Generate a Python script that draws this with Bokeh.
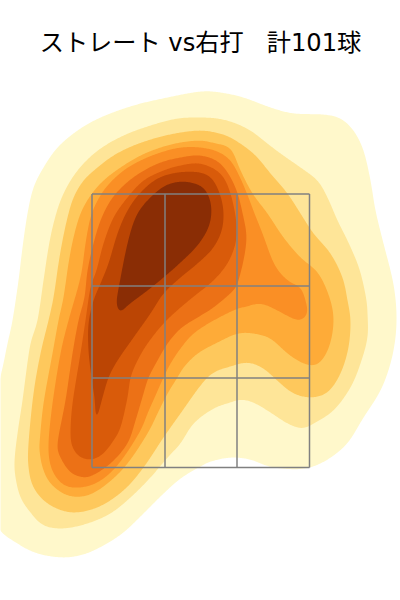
import numpy as np
from bokeh.plotting import figure
from bokeh.embed import file_html
from bokeh.resources import INLINE
from bokeh.models import Label

title_text = "ストレート vs右打\u00a0\u00a0\u00a0計101球"
band_colors = ["#FFF8CB", "#FEE598", "#FEC85C", "#FEAB38", "#FA8F25", "#EC7116", "#D95B0A", "#BB4504", "#8A2D05"]

density_1 = [(200,91),(220,92),(243,97),(270,107),(293,113),(323,114),(340,118),(353,130),(363,150),(370,180),(375,210),(383,243),(390,270),(394,290),(396,313),(395,337),(390,363),(380,390),(363,417),(343,447),(310,467),(273,467),(250,459),(230,457),(210,461),(200,466),(180,478),(160,496),(143,513),(123,532),(103,545),(83,554),(62,557),(37,553),(17,543),(-3,526),(-6,490),(-6,430),(-2,387),(3,363),(7,343),(12,320),(18,280),(22,247),(27,213),(33,187),(43,167),(57,147),(77,130),(100,117),(133,105),(167,97)]
density_2 = [(200,117),(217,118),(233,122),(250,130),(263,140),(280,153),(300,167),(317,180),(327,197),(337,220),(347,240),(357,263),(362,280),(366,300),(367,313),(367,337),(360,363),(350,387),(333,410),(313,423),(302,428),(287,423),(270,412),(253,402),(240,399),(230,402),(213,408),(193,423),(180,443),(167,457),(150,477),(130,497),(110,513),(87,523),(63,528),(43,525),(30,512),(20,497),(15,477),(14,460),(17,433),(22,400),(25,377),(30,343),(37,320),(43,280),(48,247),(53,223),(60,200),(70,180),(83,163),(100,148),(123,135),(150,125),(177,118)]
density_3 = [(200,130),(215,132),(230,137),(253,153),(270,173),(287,193),(300,213),(313,233),(330,253),(342,277),(347,300),(350,320),(348,347),(340,373),(327,392),(310,397),(293,393),(280,383),(263,368),(247,362),(230,366),(213,372),(200,385),(180,413),(163,437),(143,467),(123,490),(97,507),(70,512),(47,503),(33,487),(28,467),(28,443),(33,393),(40,353),(48,320),(53,297),(58,263),(62,240),(67,217),(73,197),(83,180),(97,167),(113,155),(133,145),(157,137),(180,132)]
density_4 = [(200,140),(215,143),(230,148),(240,170),(252,193),(267,213),(283,237),(300,257),(318,273),(330,300),(333,323),(328,348),(317,364),(303,363),(287,353),(270,338),(253,333),(237,333),(217,342),(197,353),(183,367),(177,377),(167,393),(157,413),(147,433),(127,463),(107,483),(87,495),(67,495),(50,483),(42,467),(39,450),(39,443),(43,403),(52,353),(58,320),(63,297),(68,263),(73,237),(80,213),(90,195),(103,180),(120,167),(140,155),(160,147),(180,142)]
density_5 = [(200,147),(217,151),(230,160),(240,178),(248,197),(254,213),(262,233),(272,260),(280,273),(290,282),(300,287),(305,300),(307,313),(300,320),(290,317),(277,310),(260,303),(243,307),(237,308),(213,320),(193,333),(180,348),(170,363),(163,377),(155,395),(147,413),(140,430),(123,457),(107,475),(90,485),(70,487),(58,480),(50,465),(48,443),(52,403),(60,353),(68,320),(80,277),(85,243),(90,217),(97,200),(107,185),(123,170),(140,160),(160,152),(180,147)]
density_6 = [(200,155),(220,163),(235,187),(243,217),(246,237),(243,260),(237,283),(233,290),(213,307),(197,317),(180,328),(167,343),(157,360),(148,377),(143,393),(135,420),(127,443),(110,463),(92,475),(83,477),(70,472),(60,457),(57,443),(65,400),(72,353),(78,320),(84,297),(87,270),(93,243),(100,220),(110,200),(123,185),(140,172),(160,162),(180,157)]
density_7 = [(200,163),(220,173),(230,193),(236,223),(235,243),(227,263),(213,280),(197,293),(180,307),(163,323),(147,343),(137,360),(130,377),(127,397),(120,427),(113,440),(103,453),(92,459),(80,457),(72,447),(70,433),(72,403),(80,353),(85,320),(90,287),(96,270),(103,243),(113,217),(127,197),(143,180),(163,170),(180,165)]
density_8 = [(177,172),(200,172),(213,180),(222,203),(222,227),(213,247),(197,263),(180,277),(163,293),(150,313),(133,337),(117,360),(108,377),(102,397),(96,417),(94,397),(91,377),(88,350),(88,323),(93,300),(100,283),(108,263),(117,233),(127,210),(140,192),(157,178)]
density_9 = [(183,181),(200,185),(208,195),(211,210),(208,227),(197,245),(180,262),(163,277),(147,290),(127,305),(120,312),(116,303),(119,283),(127,243),(135,217),(145,202),(160,188),(170,183)]
density_bands = [density_1, density_2, density_3, density_4, density_5, density_6, density_7, density_8, density_9]

zone_x = [91.5, 164.5, 236.5, 309]
zone_y = [193.5, 285.5, 377.5, 467]


def rounded_outline(band, steps=6, sigma=4.0):
    """Draw a traced outline as a smooth closed curve: round its corners, even out the hand-tracing jitter."""
    pts = np.array(band, dtype=float)
    p0, p1, p2, p3 = np.roll(pts, 1, 0), pts, np.roll(pts, -1, 0), np.roll(pts, -2, 0)
    out = []
    for t in np.arange(steps) / steps:
        out.append(0.5 * (2 * p1 + (p2 - p0) * t + (2 * p0 - 5 * p1 + 4 * p2 - p3) * t ** 2 + (3 * p1 - p0 - 3 * p2 + p3) * t ** 3))
    curve = np.stack(out, axis=1).reshape(-1, 2)
    closed = np.vstack([curve, curve[:1]])
    s = np.r_[0, np.cumsum(np.hypot(*np.diff(closed, axis=0).T))]
    grid = np.arange(0, s[-1], 1.0)
    xs = np.interp(grid, s, closed[:, 0])
    ys = np.interp(grid, s, closed[:, 1])
    freq = np.fft.fftfreq(len(grid), d=1.0)
    kernel = np.exp(-2 * (np.pi * freq * sigma) ** 2)
    return np.fft.ifft(np.fft.fft(xs) * kernel).real, np.fft.ifft(np.fft.fft(ys) * kernel).real


p = figure(width=400, height=600, x_range=(0, 400), y_range=(600, 0),
           output_backend="svg", toolbar_location=None, min_border=0)
p.axis.visible = False
p.grid.visible = False
p.outline_line_color = None
p.background_fill_color = "white"

for band, color in zip(density_bands, band_colors):
    xs, ys = rounded_outline(band)
    p.patch(xs, ys, fill_color=color, line_color=None)

grid_color = "#808080"
p.multi_line([[x, x] for x in zone_x], [[zone_y[0], zone_y[-1]] for x in zone_x], line_color=grid_color, line_width=1.5)
p.multi_line([[zone_x[0], zone_x[-1]] for y in zone_y], [[y, y] for y in zone_y], line_color=grid_color, line_width=1.5)

p.add_layout(Label(x=200, y=42, text=title_text, text_align="center", text_baseline="middle",
                   text_font="DejaVu Sans, Noto Sans CJK JP", text_font_size="24.2px", text_color="black"))

open("out.html", "w").write(file_html(p, INLINE))
